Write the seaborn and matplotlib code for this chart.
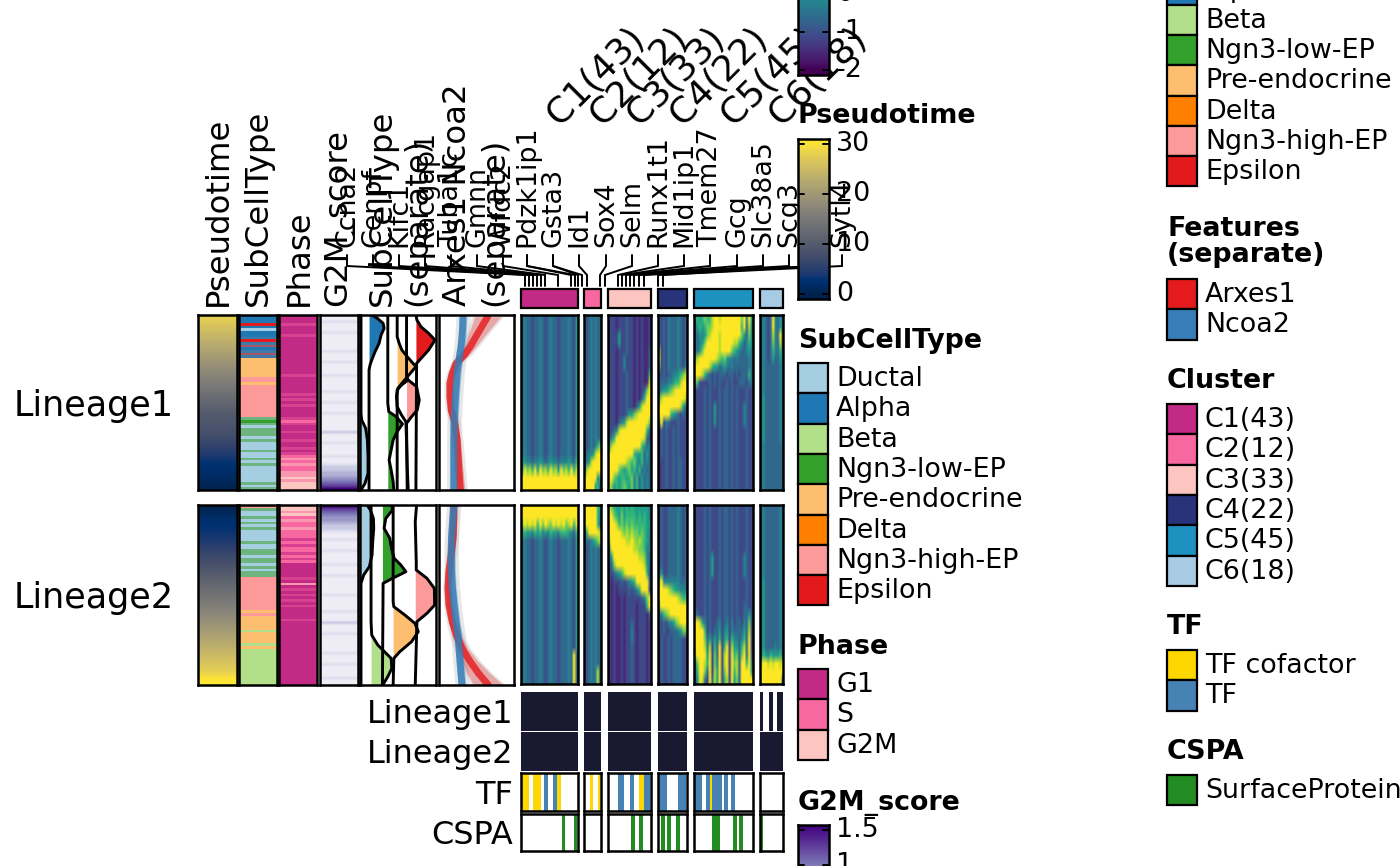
import numpy as np
import seaborn as sns
import matplotlib.pyplot as plt
from matplotlib.colors import ListedColormap
from matplotlib.patches import Rectangle

W, H = 1400, 866
TXT = 19.4

# annotation colours
subtype_names = ["Ductal", "Alpha", "Beta", "Ngn3-low-EP", "Pre-endocrine", "Delta", "Ngn3-high-EP", "Epsilon"]
subtype_cols = ["#A6CEE3", "#1F78B4", "#B2DF8A", "#33A02C", "#FDBF6F", "#FF7F00", "#FB9A99", "#E31A1C"]
subtype_keys = "DABNPTHE" + "nae"
subtype_cell_cols = subtype_cols + ["#6DB47F", "#3E7AA8", "#A85566"]
phase_names = ["G1", "S", "G2M"]
phase_cols = ["#C22A85", "#F768A1", "#FCC5C0"]
phase_keys = "GSC" + "mk"
phase_cell_cols = phase_cols + ["#D8418F", "#FA97B0"]
cluster_names = ["C1(43)", "C2(12)", "C3(33)", "C4(22)", "C5(45)", "C6(18)"]
cluster_cols = ["#C22A85", "#F768A1", "#FCC5C0", "#273479", "#1D91C0", "#A6CBE3"]

# per-cell annotation, top to bottom
pseudo_l1 = [28, 27, 26, 25, 24, 23, 22, 21, 20, 19, 18, 17, 16, 15, 14, 13, 12, 11, 10, 9.5, 9, 8.5, 8, 7, 6, 5, 4, 3.2, 2.5, 2, 1.5, 1, 0.3]
pseudo_l2 = [0.5, 1, 2, 2.5, 3, 3.5, 4, 5, 6, 7, 8, 9, 10, 11, 12, 13, 14, 15, 16, 17, 18, 19, 20, 21, 22, 23, 24, 25, 26, 27, 28, 30, 31]
subtype_l1 = "AAAEADAAaEaeAaea" + "PPPPPPP" + "HHPHHHHHHHHHHHH" + "nNnDnnnDnDDDnDDnDnDDDDDDnDn"
subtype_l2 = "HnDDnDnDnDDDDnDDnnDnnDnDnn" + "HHHHHHHHHHHH" + "PH" + "PPPPPBPPPPBPB" + "BBBBBBBBBBBB"
phase_l1 = "GGGmGGGmGGGGGGGGGGGGGGmGGGGGG" + "mGmGmGGGGmSmGGmGGmGGmG" + "mSkSkSSkkCkCCC"
phase_l2 = "CCkCSkSSkSSS" + "mSmSSmSmS" + "GGGGGmGkGmGmGmGmGGG" + "GmGGGGGGGGGGGGGGGGGGGGGGG"
g2m_l1 = "0010001000" + "0001000100" + "0010000010" + "0010001000" + "0002000100" + "00100" + "1223345679"
g2m_l2 = "9765443221" + "0010001000" + "0100010000" + "0010000010" + "0020001000" + "0001000100" + "00100"

# expression, 0-9 code, rows top to bottom
c1_l1 = ["3433233432343323334325"] * 18 + ["4544344543454434445436", "5978695978697859786968", "9999999999999999999999", "9999999999999999999999"]
c1_l2 = ["9999999999999999999999", "9999999999999999999999", "7989896979879898978969", "4655465645465546665436"] + ["3433233432343323334325"] * 14 + ["3433233432343323334393"] * 4
c2_l1 = ["32343433"] * 16 + ["32343467", "33445899", "34589999", "58999999", "99999946", "99999563"]
c2_l2 = ["99999965", "99999964", "99999963", "56999998", "33345678"] + ["32343433"] * 15 + ["32343483"] * 2
c3_l1 = ["22212223221212112"] * 2 + ["22225223221212112"] * 2 + ["22212223221212113"] + ["22212242221212113"] * 2 + [
    "22212223221212116", "22212223221212118", "22212223221212379", "22212223221213699",
    "22212223221358999", "22212223557899999", "22213458999999997", "22348999999999963",
    "34699999999999832", "58999999999996534", "99999999996556353", "99999998767546343",
    "99997656756463433", "99765665674635343", "97565676574635343"]
c3_l2 = ["97655656565555554", "99765756666565654", "99986767676666655", "99999878787767654",
         "89999998898787654", "49999999998877644", "35999999999988743", "23799999999999853",
         "22345689999999962", "21222323456999993", "21212222323469992", "21211212222223479",
         "21211212222122269", "21211212222122213", "21211212232122212", "21211212242122212",
         "21211212242122212"] + ["21211212232122212"] * 5
c4_l1 = ["323243334323"] * 4 + ["823243334323", "923243334323", "723243334324", "323233445678", "333344566899",
                                "345567899999", "689999999998", "999999999853", "999996543232", "592432223222"] + ["132322323222"] * 4 + ["122322323322"] * 4
c4_l2 = ["232233334323"] * 8 + ["352233334323", "794444444333", "999987655444", "999999998766", "799999999999",
                                "346789999999", "323244578999", "323223334577"] + ["132232333322"] * 6
c5_l1 = ["565676689989999999979495", "456567789999999999969384", "435457899989999999975374", "434579999989999988653464",
         "435799999989999765433453", "789999999876754434333343", "999999865534543433333343", "999864323233323323233363",
         "762222323232232322333243"] + ["222232322232332323222322"] * 2 + ["222232325232332323224322"] * 3 + ["222232322232332323222322"] * 8
c5_l2 = ["222232322232332323222322"] * 6 + ["222232352232332323224322"] * 3 + ["222232322232332323222322"] * 3 + [
    "222232322232332323223322", "432232322232332323223352", "998542322342342423324372", "999962323352452433335382",
    "999973535362562644346392", "999984826392692855368392", "899995927392892967379393", "479986927492892978399694",
    "369973928592792968399995", "259832938592682957399999"]
c6_l1 = ["3432394353"] * 2 + ["3432384393", "3432374383", "3432364363", "3432353353"] + ["3433333343"] * 4 + ["3533333343"] * 6 + ["3433333333"] * 6
c6_l2 = ["3433333343"] * 9 + ["3533333343"] * 8 + ["3533334343", "4654655564", "8998989989", "9999999999", "9999999993"]

# gene annotation strips per cluster
lin1_flags = ["1" * 43, "1" * 12, "1" * 33, "1" * 22, "1" * 45, "110000011100011111"]
lin2_flags = ["1" * 43, "1" * 12, "1" * 33, "1" * 22, "1" * 45, "1" * 18]
tf_flags = ["1111110001111110022200002221110000000000000", "000011000010",
            "000000002222000002220000111122220", "0222222000000002222220",
            "222222000222112222222002220022200000000000000", "000000000000000000"]
cspa_flags = ["0000000000000000000000000000000110000000110", "000000000000",
              "000000000000000000111000111000000", "0011100111000011100000",
              "000000000000001111110000000000111011100000000", "110000000000000000"]

# gene labels
gene_labels = ["Ccna2", "Cenpf", "Kifc1", "Racgap1", "Tuba1c", "Gmnn", "Wfdc2", "Pdzk1ip1", "Gsta3", "Id1", "Sox4",
               "Selm", "Runx1t1", "Mid1ip1", "Tmem27", "Gcg", "Slc38a5", "Scg3", "", "Sytl4"]
gene_label_x = [347, 373, 399, 425, 451, 477, 503, 527, 553, 579, 606, 632, 658, 684, 710, 737, 763, 789, 815, 842]
gene_mark_x = [525, 529, 533, 537, 541, 545, 558, 571, 578, 587, 600, 605, 618, 622, 626, 630, 634, 639, 644, 658]
extra_label_x = [527, 553, 815]
extra_mark_x = [575, 582, 663]

# ridges, position along the panel and lane offset
r1_ductal_y = [45, 340, 360, 385, 420, 470, 520, 550, 570]
r1_ductal_w = [0, 0, 2, 14, 19, 21, 21, 12, 0]
r1_alpha_y = [45, 55, 70, 85, 105, 130, 155, 180, 195, 210, 570]
r1_alpha_w = [8, 25, 42, 45, 36, 30, 18, 8, 3, 0, 0]
r1_low_y = [45, 310, 335, 350, 372, 395, 420, 450, 480, 510, 545, 570]
r1_low_w = [0, 0, 3, 25, 44, 28, 16, 10, 4, 10, 16, 18]
r1_pre_y = [45, 110, 130, 150, 170, 200, 225, 250, 265, 285, 570]
r1_pre_w = [0, 0, 6, 14, 30, 56, 35, 14, 2, 0, 0]
r1_high_y = [45, 230, 240, 260, 300, 330, 350, 370, 570]
r1_high_w = [0, 0, 5, 30, 38, 32, 15, 0, 2]
r1_eps_y = [45, 60, 80, 100, 120, 150, 170, 190, 570]
r1_eps_w = [0, 3, 15, 38, 57, 38, 20, 2, 0]
r1_extra_y = [240, 255, 270, 290, 320, 345, 365, 420, 500, 570]
r1_extra_x = [655, 635, 622, 620, 622, 635, 648, 650, 652, 655]

r2_ductal_y = [30, 45, 70, 100, 140, 180, 215, 240, 265, 570]
r2_ductal_w = [18, 28, 37, 38, 35, 33, 25, 8, 0, 0]
r2_beta_y = [30, 240, 380, 420, 450, 470, 490, 520, 545, 570]
r2_beta_w = [0, 0, 0, 2, 20, 40, 60, 62, 50, 35]
r2_low_y = [30, 45, 70, 100, 130, 160, 190, 210, 230, 250, 265, 570]
r2_low_w = [28, 30, 10, 5, 22, 27, 35, 55, 70, 30, 2, 0]
r2_pre_y = [30, 270, 320, 335, 360, 385, 410, 440, 470, 490, 570]
r2_pre_w = [0, 0, 0, 2, 35, 65, 75, 55, 20, 2, 0]
r2_high_y = [30, 80, 200, 225, 250, 280, 330, 355, 380, 570]
r2_high_w = [4, 0, 3, 3, 35, 57, 58, 35, 5, 0]

# smoothed feature curves
f1_y = [50, 80, 110, 140, 165, 190, 220, 250, 290, 330, 365, 420, 500, 570]
f1_ncoa2 = [818, 817, 815, 812, 808, 804, 800, 798, 795, 793, 791, 790, 790, 790]
f1_arxes1 = [893, 875, 857, 840, 822, 797, 785, 778, 778, 782, 792, 800, 805, 810]
f1_arxes1_ci = [40, 32, 25, 18, 14, 10, 10, 10, 10, 10, 10, 10, 12, 14]
f2_y = [30, 70, 130, 180, 230, 280, 330, 380, 420, 460, 500, 535, 570]
f2_ncoa2 = [790, 787, 783, 782, 783, 786, 791, 797, 803, 806, 809, 812, 815]
f2_arxes1 = [790, 790, 788, 782, 775, 772, 775, 785, 798, 815, 840, 865, 895]
f2_arxes1_ci = [8, 8, 8, 8, 8, 8, 8, 10, 14, 18, 25, 35, 45]

sns.set_theme(style="white")
plt.rcParams["font.family"] = ["DejaVu Sans"]
plt.rcParams["text.color"] = "black"
fig = plt.figure(figsize=(W / 100, H / 100), dpi=100)


def panel(x0, x1, y0, y1):
    ax = fig.add_axes([x0 / W, 1 - y1 / H, (x1 - x0) / W, (y1 - y0) / H])
    return ax


def frame(ax, lw=1.8):
    for s in ax.spines.values():
        s.set_visible(True)
        s.set_color("black")
        s.set_linewidth(lw)


def soften(ax, mat, cmap, vmin, vmax):
    # same cells again, resampled by the renderer so bands fade like the original raster
    ny, nx = mat.shape
    ax.imshow(mat, cmap=cmap, vmin=vmin, vmax=vmax, interpolation="bilinear", aspect="auto", extent=(0, nx, ny, 0), zorder=2)
    ax.set_xlim(0, nx)
    ax.set_ylim(ny, 0)


def draw_cat(box, text, keys, cols):
    ax = panel(*box)
    codes = np.array([[keys.index(c)] for c in text])
    sns.heatmap(codes, ax=ax, cmap=ListedColormap(cols), vmin=0, vmax=len(cols) - 1, cbar=False, xticklabels=False, yticklabels=False)
    frame(ax)


def draw_value(box, vals, cmap, vmin, vmax):
    ax = panel(*box)
    mat = np.array(vals, dtype=float).reshape(-1, 1)
    sns.heatmap(mat, ax=ax, cmap=cmap, vmin=vmin, vmax=vmax, cbar=False, xticklabels=False, yticklabels=False)
    soften(ax, mat, cmap, vmin, vmax)
    frame(ax)


def draw_expr(box, rows):
    ax = panel(*box)
    mat = np.array([[int(c) for c in r] for r in rows]) / 9 * 4 - 2
    sns.heatmap(mat, ax=ax, cmap="viridis", vmin=-2, vmax=2, cbar=False, xticklabels=False, yticklabels=False)
    soften(ax, mat, "viridis", -2, 2)
    frame(ax)


def draw_strip(box, flags, cols, border=True):
    ax = panel(*box)
    vals = np.array([[int(c) for c in flags]])
    sns.heatmap(vals, ax=ax, cmap=ListedColormap(cols), vmin=0, vmax=len(cols) - 1, cbar=False, xticklabels=False, yticklabels=False)
    if border:
        frame(ax)
    else:
        for s in ax.spines.values():
            s.set_visible(False)


def draw_ridges(box, ylim, lanes, extra=None):
    ax = panel(*box)
    ax.set_xlim(511, 738)
    ax.set_ylim(*ylim)
    for base, ys, ws, col in lanes:
        xs = [base + v for v in ws]
        ax.fill_betweenx(ys, base, xs, color=col, lw=0)
        ax.plot(xs, ys, color="black", lw=2.1)
    if extra:
        ax.plot(extra[0], extra[1], color="black", lw=2.1)
    ax.set_xticks([])
    ax.set_yticks([])
    frame(ax)


def draw_features(box, ylim, ys, blue, red, ci):
    ax = panel(*box)
    ax.set_xlim(745, 973)
    ax.set_ylim(*ylim)
    ys = np.array(ys)
    blue = np.array(blue)
    red = np.array(red)
    ci = np.array(ci)
    ax.fill_betweenx(ys, red - ci - 8, red + ci + 8, color="#BDBDBD", alpha=0.35, lw=0)
    ax.fill_betweenx(ys, blue - 22, blue + 22, color="#BDBDBD", alpha=0.35, lw=0)
    ax.fill_betweenx(ys, red - ci, red + ci, color="#E41A1C", alpha=0.3, lw=0)
    ax.fill_betweenx(ys, blue - 12, blue + 12, color="#377EB8", alpha=0.3, lw=0)
    sns.lineplot(x=red, y=ys, ax=ax, orient="y", sort=False, estimator=None, color="#E41A1C", lw=5, alpha=0.8)
    sns.lineplot(x=blue, y=ys, ax=ax, orient="y", sort=False, estimator=None, color="#377EB8", lw=5, alpha=0.85)
    ax.set_xticks([])
    ax.set_yticks([])
    ax.set_xlabel("")
    ax.set_ylabel("")
    frame(ax)


def legend(title, x, ty, top, labels, cols):
    over.text(x, ty + 1, title, fontsize=TXT, fontweight="bold", va="center", ha="left", linespacing=1.05)
    step = 30.3
    for i, (lab, col) in enumerate(zip(labels, cols)):
        over.add_patch(Rectangle((x, top + i * step), 30, step, fc=col, ec="black", lw=1.6))
        over.text(x + 38, top + (i + 0.5) * step + 1, lab, fontsize=TXT, va="center", ha="left")


def colorbar(y0, y1, vtop, vbot, cmap, cmin, cmax, ticks, labels):
    x0, x1 = 798, 829
    ax = panel(x0, x1, y0, y1)
    ramp = np.linspace(vtop, vbot, 256).reshape(-1, 1)
    sns.heatmap(ramp, ax=ax, cmap=cmap, vmin=cmin, vmax=cmax, cbar=False, xticklabels=False, yticklabels=False)
    frame(ax)
    for t, lab in zip(ticks, labels):
        ypx = y0 + (vtop - t) / (vtop - vbot) * (y1 - y0)
        frac = (ypx - y0) / (y1 - y0) * 256
        ax.plot([0, 0.18], [frac, frac], color="black", lw=1.4, transform=ax.get_yaxis_transform())
        ax.plot([0.82, 1], [frac, frac], color="black", lw=1.4, transform=ax.get_yaxis_transform())
        over.text(x1 + 7, ypx, lab, fontsize=TXT, va="center", ha="left")


# overlay in pixel units for text, swatches and gene links
over = fig.add_axes([0, 0, 1, 1])
over.set_xlim(0, W)
over.set_ylim(H, 0)
over.axis("off")

for lab, lx in zip(gene_labels, gene_label_x):
    over.text(lx, 247, lab, rotation=90, fontsize=TXT, ha="center", va="bottom")
for lx, mx in zip(gene_label_x + extra_label_x, gene_mark_x + extra_mark_x):
    over.plot([lx, lx, mx, mx], [255, 266, 275, 286], color="black", lw=1.4, solid_joinstyle="miter")

column_x = [218, 258, 299, 339, 382, 418, 458, 495]
column_labels = ["Pseudotime", "SubCellType", "Phase", "G2M_score", "SubCellType", "(separate)", "Arxes1 Ncoa2", "(separate)"]
for lab, lx in zip(column_labels, column_x):
    over.text(lx, 306, lab, rotation=90, fontsize=23.3, ha="center", va="bottom")

over.text(174, 406, "Lineage1", fontsize=25.2, ha="right", va="center")
over.text(174, 598, "Lineage2", fontsize=25.2, ha="right", va="center")
for lab, yy in zip(["Lineage1", "Lineage2", "TF", "CSPA"], [715, 755, 795, 835]):
    over.text(513, yy, lab, fontsize=23, ha="right", va="center")

# column annotations
draw_value((198, 237, 315, 490), pseudo_l1, "cividis", 0, 31)
draw_value((198, 237, 505, 685), pseudo_l2, "cividis", 0, 31)
draw_cat((239, 277, 315, 490), subtype_l1, subtype_keys, subtype_cell_cols)
draw_cat((239, 277, 505, 685), subtype_l2, subtype_keys, subtype_cell_cols)
draw_cat((279, 317, 315, 490), phase_l1, phase_keys, phase_cell_cols)
draw_cat((279, 317, 505, 685), phase_l2, phase_keys, phase_cell_cols)
draw_value((320, 358, 315, 490), [int(c) for c in g2m_l1], "Purples", -1.3, 9)
draw_value((320, 358, 505, 685), [int(c) for c in g2m_l2], "Purples", -1.3, 9)

draw_ridges((360, 436, 315, 490), (570, 45), [
    (514, r1_ductal_y, r1_ductal_w, subtype_cols[0]),
    (538, r1_alpha_y, r1_alpha_w, subtype_cols[1]),
    (594, r1_low_y, r1_low_w, subtype_cols[3]),
    (622, r1_pre_y, r1_pre_w, subtype_cols[4]),
    (650, r1_high_y, r1_high_w, subtype_cols[6]),
    (678, r1_eps_y, r1_eps_w, subtype_cols[7])], (r1_extra_x, r1_extra_y))
draw_ridges((360, 436, 505, 685), (570, 30), [
    (514, r2_ductal_y, r2_ductal_w, subtype_cols[0]),
    (544, r2_beta_y, r2_beta_w, subtype_cols[2]),
    (578, r2_low_y, r2_low_w, subtype_cols[3]),
    (610, r2_pre_y, r2_pre_w, subtype_cols[4]),
    (676, r2_high_y, r2_high_w, subtype_cols[6])])
draw_features((439, 514, 315, 490), (570, 45), f1_y, f1_ncoa2, f1_arxes1, f1_arxes1_ci)
draw_features((439, 514, 505, 685), (570, 30), f2_y, f2_ncoa2, f2_arxes1, f2_arxes1_ci)

# heatmap blocks and their gene strips
cluster_x = [(521, 578), (584, 601), (608, 651), (658, 687), (694, 753), (760, 783)]
expr_l1 = [c1_l1, c2_l1, c3_l1, c4_l1, c5_l1, c6_l1]
expr_l2 = [c1_l2, c2_l2, c3_l2, c4_l2, c5_l2, c6_l2]
cluster_anchor = [552, 595, 632, 675, 726, 774]
navy = ["#FFFFFF", "#191932"]
for i, (x0, x1) in enumerate(cluster_x):
    over.add_patch(Rectangle((x0, 289), x1 - x0, 19, fc=cluster_cols[i], ec="black", lw=1.6))
    over.text(cluster_anchor[i], 119, cluster_names[i], fontsize=26, rotation=45, rotation_mode="anchor", ha="left", va="center")
    draw_expr((x0, x1, 315, 490), expr_l1[i])
    draw_expr((x0, x1, 505, 684), expr_l2[i])
    draw_strip((x0, x1, 692, 731), lin1_flags[i], navy, border=False)
    draw_strip((x0, x1, 732, 771), lin2_flags[i], navy, border=False)
    draw_strip((x0, x1, 773, 811), tf_flags[i], ["#FFFFFF", "#FFD700", "#4682B4"])
    draw_strip((x0, x1, 814, 851), cspa_flags[i], ["#FFFFFF", "#228B22"])

# legends, first column
colorbar(-87, 75, 2.13, -2.13, "viridis", -2, 2, [-2, -1, 0, 1, 2], ["-2", "-1", "0", "1", "2"])
over.text(798, 116, "Pseudotime", fontsize=TXT, fontweight="bold", va="center", ha="left")
colorbar(139, 299, 31, -1, "cividis", 0, 31, [0, 10, 20, 30], ["0", "10", "20", "30"])
legend("SubCellType", 798, 340, 363, subtype_names, subtype_cols)
legend("Phase", 798, 646, 669, phase_names, phase_cols)
over.text(798, 803, "G2M_score", fontsize=TXT, fontweight="bold", va="center", ha="left")
colorbar(825, 935, 1.57, 0, "Purples", 0, 1.57, [1.5, 1, 0.5, 0], ["1.5", "1", "0.5", "0"])

# legends, second column
legend("SubCellType", 1167, -80, -56, subtype_names, subtype_cols)
legend("Features\n(separate)", 1167, 241, 279, ["Arxes1", "Ncoa2"], ["#E41A1C", "#377EB8"])
legend("Cluster", 1167, 380, 404, cluster_names, cluster_cols)
legend("TF", 1167, 626, 650, ["TF cofactor", "TF"], ["#FFD700", "#4682B4"])
legend("CSPA", 1167, 751, 775, ["SurfaceProtein"], ["#228B22"])

fig.savefig("out.png", dpi=100)
